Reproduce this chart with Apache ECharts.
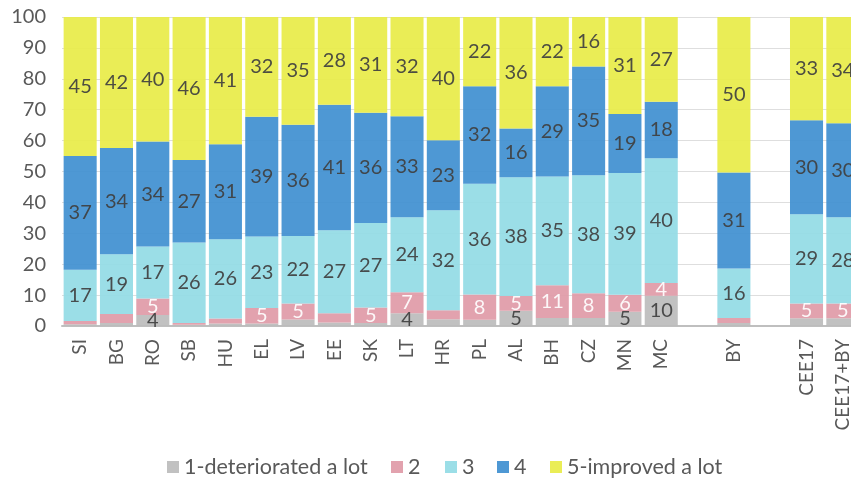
<!DOCTYPE html>
<html><head><meta charset="utf-8">
<script src="https://cdn.jsdelivr.net/npm/echarts@6/dist/echarts.min.js"></script>
<style>html,body{margin:0;padding:0;background:#fff}#c{width:851px;height:479px}</style>
</head><body><div id="c"></div>
<script>
const categories = ['SI','BG','RO','SB','HU','EL','LV','EE','SK','LT','HR','PL','AL','BH','CZ','MN','MC',' ','BY','  ','CEE17','CEE17+BY'];
const seriesNames = ['1-deteriorated a lot','2','3','4','5-improved a lot'];
const v1 = [0.6,1.0,3.6,0.4,0.8,0.8,2.1,1.1,1.0,4.1,2.2,2.0,4.9,2.6,2.6,4.6,9.8,null,1.0,null,2.5,2.5];
const v2 = [1.0,2.9,5.3,0.6,1.6,5.0,5.2,3.0,5.0,6.8,2.9,8.2,4.8,10.6,8.0,5.5,4.1,null,1.6,null,4.8,4.8];
const v3 = [16.6,19.3,16.8,26.0,25.7,23.2,21.8,26.9,27.3,24.3,32.4,35.8,38.4,35.2,38.2,39.4,40.4,null,16.0,null,28.9,27.9];
const v4 = [36.8,34.4,34.0,26.7,30.7,38.7,36.0,40.6,35.7,32.7,22.6,31.6,15.8,29.2,35.2,19.1,18.3,null,31.1,null,30.4,30.4];
const v5 = [45.0,42.4,40.3,46.3,41.2,32.3,34.9,28.4,31.0,32.1,39.9,22.4,36.1,22.4,16.0,31.4,27.4,null,50.3,null,33.4,34.4];
const yTicks = [0,10,20,30,40,50,60,70,80,90,100];

const colors = ['#bcbcbc','#e09aa7','#93dbe5','#3f8fd0','#e8ec48'];
const labelMin = [3.5, 4, 0, 0, 0];
const labelColors = ['#404040','#ffffff','#404040','#404040','#404040'];
const legendLeft = [167, 391, 445, 497, 550];
const values = [v1,v2,v3,v4,v5];

const chart = echarts.init(document.getElementById('c'), null, {renderer:'canvas'});
chart.setOption({
  animation:false,
  textStyle:{fontFamily:'Lato, "Liberation Sans", sans-serif'},
  grid:{left:62, top:17, width:799, height:309, containLabel:false, outerBoundsMode:'none'},
  legend: seriesNames.map((n,i)=>({
    bottom:1, left:legendLeft[i], icon:'rect', itemWidth:12, itemHeight:12, itemGap:0, padding:0,
    textStyle:{fontSize:21.5, color:'#595959', fontFamily:'Lato, sans-serif'},
    data:[n]
  })),
  xAxis:{
    type:'category', data:categories,
    axisLine:{lineStyle:{color:'#bfbfbf', width:2}},
    axisTick:{show:false},
    axisLabel:{rotate:90, fontSize:19, color:'#595959', margin:13, interval:0, fontFamily:'Lato, sans-serif'}
  },
  yAxis:{
    type:'value', min:0, max:100, interval:10,
    axisLine:{show:false}, axisTick:{show:false},
    splitLine:{lineStyle:{color:'#dedede', width:1}},
    axisLabel:{fontSize:20, color:'#595959', margin:16, fontFamily:'Lato, sans-serif',
      formatter:v=> yTicks.indexOf(v) >= 0 ? String(v) : ''}
  },
  series: seriesNames.map((name,i)=>({
    name, type:'bar', stack:'all', data:values[i],
    barCategoryGap:'9%',
    itemStyle:{color:colors[i], opacity:0.92},
    label:{show:true, position:'inside', fontSize:20, color:labelColors[i], fontFamily:'Lato, sans-serif',
      formatter:p=> (p.value==null || p.value < labelMin[i]) ? '' : String(Math.round(p.value))}
  }))
});
</script></body></html>
